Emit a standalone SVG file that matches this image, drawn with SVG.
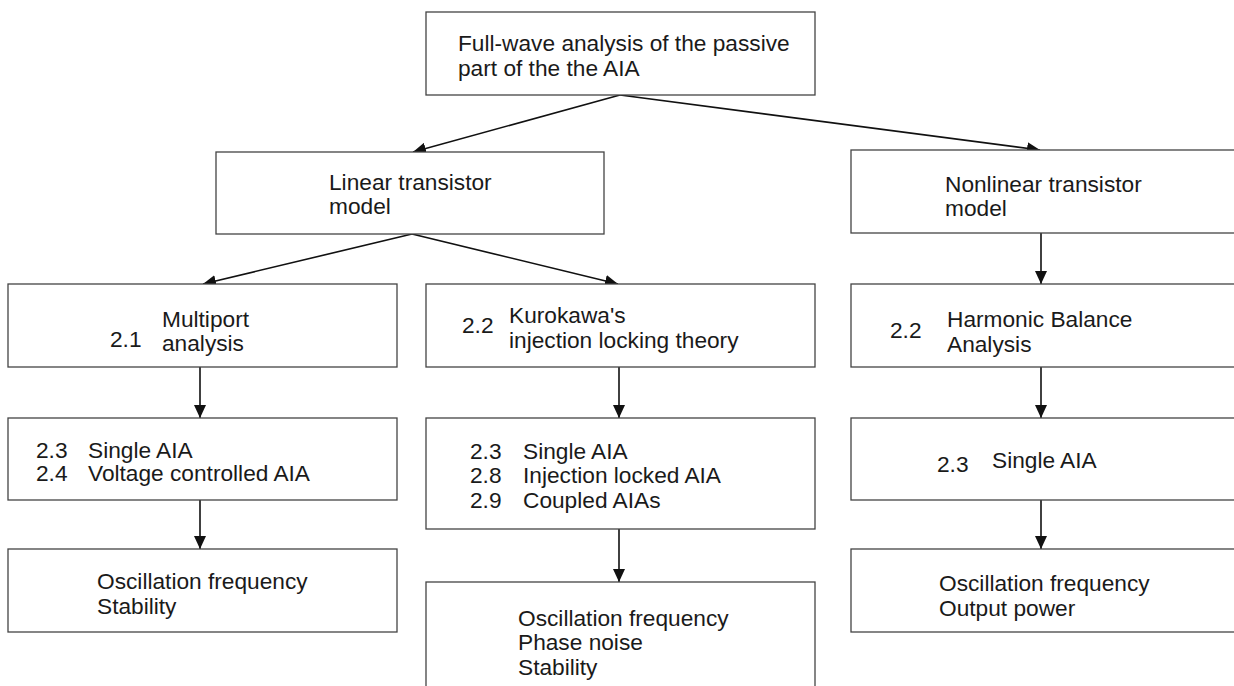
<svg xmlns="http://www.w3.org/2000/svg" width="1234" height="686" viewBox="0 0 1234 686">
<defs>
<style>
.box{fill:#fff;stroke:#444;stroke-width:1.3}
.t{font-family:"Liberation Sans",Arial,sans-serif;font-size:22.7px;fill:#1a1a1a}
.c{stroke:#111;stroke-width:1.6;fill:none}
</style>
<marker id="ah" markerWidth="13" markerHeight="12" refX="13" refY="6" orient="auto" markerUnits="userSpaceOnUse">
<path d="M0,0 L13,6 L0,12 Z" fill="#111"/>
</marker>
</defs>
<rect width="1234" height="686" fill="#fff"/>
<g id="connectors">
<line class="c" x1="620" y1="95" x2="413" y2="152" marker-end="url(#ah)"/>
<line class="c" x1="620" y1="95" x2="1040" y2="150" marker-end="url(#ah)"/>
<line class="c" x1="412" y1="234" x2="203" y2="284" marker-end="url(#ah)"/>
<line class="c" x1="412" y1="234" x2="618" y2="284" marker-end="url(#ah)"/>
<line class="c" x1="1041" y1="233" x2="1041" y2="284" marker-end="url(#ah)"/>
<line class="c" x1="200" y1="367" x2="200" y2="418" marker-end="url(#ah)"/>
<line class="c" x1="619" y1="367" x2="619" y2="418" marker-end="url(#ah)"/>
<line class="c" x1="1041" y1="367" x2="1041" y2="418" marker-end="url(#ah)"/>
<line class="c" x1="200" y1="500" x2="200" y2="549" marker-end="url(#ah)"/>
<line class="c" x1="619" y1="529" x2="619" y2="582" marker-end="url(#ah)"/>
<line class="c" x1="1041" y1="500" x2="1041" y2="549" marker-end="url(#ah)"/>
</g>
<g id="n-fullwave">
<rect class="box" x="426" y="12" width="389" height="83"/>
<text class="t" x="458" y="51">Full-wave analysis of the passive</text>
<text class="t" x="458" y="76">part of the the AIA</text>
</g>
<g id="n-linear">
<rect class="box" x="216" y="152" width="388" height="82"/>
<text class="t" x="329" y="190">Linear transistor</text>
<text class="t" x="329" y="214">model</text>
</g>
<g id="n-nonlinear">
<rect class="box" x="851" y="150" width="400" height="83"/>
<text class="t" x="945" y="192">Nonlinear transistor</text>
<text class="t" x="945" y="216">model</text>
</g>
<g id="n-multiport">
<rect class="box" x="8" y="284" width="389" height="83"/>
<text class="t" x="110" y="347">2.1</text>
<text class="t" x="162" y="327">Multiport</text>
<text class="t" x="162" y="351">analysis</text>
</g>
<g id="n-kurokawa">
<rect class="box" x="426" y="284" width="389" height="83"/>
<text class="t" x="462" y="333">2.2</text>
<text class="t" x="509" y="323">Kurokawa's</text>
<text class="t" x="509" y="348">injection locking theory</text>
</g>
<g id="n-harmonic">
<rect class="box" x="851" y="284" width="400" height="83"/>
<text class="t" x="890" y="338">2.2</text>
<text class="t" x="947" y="327">Harmonic Balance</text>
<text class="t" x="947" y="352">Analysis</text>
</g>
<g id="n-single-left">
<rect class="box" x="8" y="418" width="389" height="82"/>
<text class="t" x="36" y="457.5">2.3</text>
<text class="t" x="88" y="457.5">Single AIA</text>
<text class="t" x="36" y="481">2.4</text>
<text class="t" x="88" y="481">Voltage controlled AIA</text>
</g>
<g id="n-single-mid">
<rect class="box" x="426" y="418" width="389" height="111"/>
<text class="t" x="470" y="459">2.3</text>
<text class="t" x="523" y="459">Single AIA</text>
<text class="t" x="470" y="483">2.8</text>
<text class="t" x="523" y="483">Injection locked AIA</text>
<text class="t" x="470" y="508">2.9</text>
<text class="t" x="523" y="508">Coupled AIAs</text>
</g>
<g id="n-single-right">
<rect class="box" x="851" y="418" width="400" height="82"/>
<text class="t" x="937" y="472">2.3</text>
<text class="t" x="992" y="468">Single AIA</text>
</g>
<g id="n-result-left">
<rect class="box" x="8" y="549" width="389" height="83"/>
<text class="t" x="97" y="589">Oscillation frequency</text>
<text class="t" x="97" y="614">Stability</text>
</g>
<g id="n-result-mid">
<rect class="box" x="426" y="582" width="389" height="120"/>
<text class="t" x="518" y="626">Oscillation frequency</text>
<text class="t" x="518" y="650">Phase noise</text>
<text class="t" x="518" y="675">Stability</text>
</g>
<g id="n-result-right">
<rect class="box" x="851" y="549" width="400" height="83"/>
<text class="t" x="939" y="591">Oscillation frequency</text>
<text class="t" x="939" y="615.5">Output power</text>
</g>
</svg>
